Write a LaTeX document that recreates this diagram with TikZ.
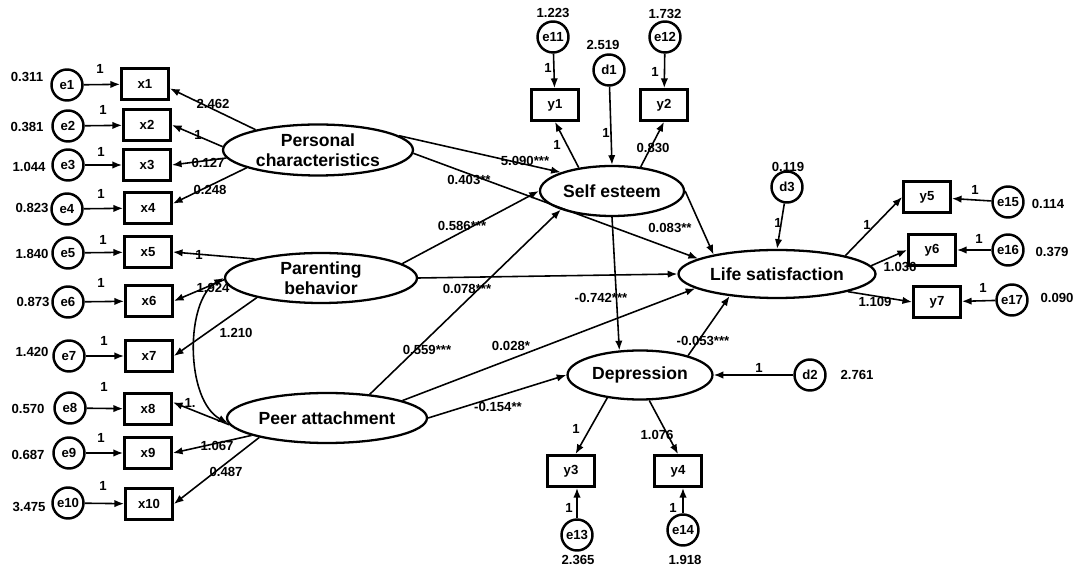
\documentclass[tikz,border=0pt]{standalone}
\usepackage{fontspec}
\setmainfont{Liberation Sans}
\usetikzlibrary{shapes.geometric, arrows.meta, positioning}

\begin{document}
\begin{tikzpicture}[
x=0.02cm, y=-0.02cm,
latent/.style   ={ellipse, draw, line width=1.3pt, inner sep=0pt, minimum height=1cm},
lattext/.style  ={font=\fontsize{10}{11.5}\selectfont\bfseries, align=center, inner sep=0pt},
observed/.style ={rectangle, draw, line width=1.6pt, minimum width=0.94cm, minimum height=0.62cm, inner sep=0pt, font=\fontsize{7.5}{9}\selectfont\bfseries},
error/.style    ={circle, draw, line width=1.4pt, minimum size=0.62cm, inner sep=0pt, font=\fontsize{7.5}{9}\selectfont\bfseries},
num/.style      ={font=\fontsize{7.5}{9}\selectfont\bfseries, inner sep=0pt},
line/.style     ={draw, line width=0.9pt, -{Latex[length=5.5pt,width=4.2pt]}},
cov/.style      ={draw, line width=0.9pt, {Latex[length=5.5pt,width=4.2pt]}-{Latex[length=5.5pt,width=4.2pt]}},
]
\useasboundingbox (0,0) rectangle (1075,570);

% Latent variables
\node[latent, minimum width=3.8cm,  minimum height=1.02cm, label={[lattext]center:Personal\\characteristics}] (pc)  at (318,150) {};
\node[latent, minimum width=3.84cm, label={[lattext]center:Parenting\\behavior}]                            (pb)  at (321,278) {};
\node[latent, minimum width=4cm,    label={[lattext]center:Peer attachment}]                                (pa)  at (327,418) {};
\node[latent, minimum width=2.88cm, label={[lattext]center:Self esteem}]                                    (se)  at (612,191) {};
\node[latent, minimum width=3.94cm, minimum height=0.96cm, label={[lattext]center:Life satisfaction}]       (ls)  at (777,274) {};
\node[latent, minimum width=2.9cm,  minimum height=0.98cm, label={[lattext]center:Depression}]             (dep) at (640,375) {};

% Indicators, left
\node[observed] (x1)  at (145,84)  {x1};
\node[observed] (x2)  at (147,125) {x2};
\node[observed] (x3)  at (147,165) {x3};
\node[observed] (x4)  at (148,208) {x4};
\node[observed] (x5)  at (148,252) {x5};
\node[observed] (x6)  at (149,301) {x6};
\node[observed] (x7)  at (149,356) {x7};
\node[observed] (x8)  at (148,409) {x8};
\node[observed] (x9)  at (148,453) {x9};
\node[observed] (x10) at (149,504) {x10};

\node[error] (e1)  at (67,85)  {e1};
\node[error] (e2)  at (68,126) {e2};
\node[error] (e3)  at (68,165) {e3};
\node[error] (e4)  at (67,209) {e4};
\node[error] (e5)  at (68,253) {e5};
\node[error] (e6)  at (68,302) {e6};
\node[error] (e7)  at (69,356) {e7};
\node[error] (e8)  at (70,408) {e8};
\node[error] (e9)  at (69,453) {e9};
\node[error] (e10) at (68,503) {e10};

% Indicators, right
\node[observed] (y1) at (555,105) {y1};
\node[observed] (y2) at (664,105) {y2};
\node[observed] (y3) at (571,471) {y3};
\node[observed] (y4) at (678,471) {y4};
\node[observed] (y5) at (927,197) {y5};
\node[observed] (y6) at (932,250) {y6};
\node[observed] (y7) at (937,302) {y7};

\node[error] (e11) at (553,37)   {e11};
\node[error] (e12) at (665,37)   {e12};
\node[error] (d1)  at (609,70)   {d1};
\node[error] (d3)  at (787,187)  {d3};
\node[error] (d2)  at (810,375)  {d2};
\node[error] (e13) at (577,535)  {e13};
\node[error] (e14) at (683,530)  {e14};
\node[error] (e15) at (1008,202) {e15};
\node[error] (e16) at (1008,250) {e16};
\node[error] (e17) at (1012,300) {e17};

% Variances
\node[num] (v1)  at (27,77)   {0.311};
\node[num] (v2)  at (27,127)  {0.381};
\node[num] (v3)  at (29,167)  {1.044};
\node[num] (v4)  at (32,208)  {0.823};
\node[num] (v5)  at (32,254)  {1.840};
\node[num] (v6)  at (33,302)  {0.873};
\node[num] (v7)  at (32,352)  {1.420};
\node[num] (v8)  at (28,409)  {0.570};
\node[num] (v9)  at (28,455)  {0.687};
\node[num] (v10) at (29,507)  {3.475};
\node[num] (v11) at (553,13)  {1.223};
\node[num] (v12) at (665,14)  {1.732};
\node[num] (vd1) at (603,45)  {2.519};
\node[num] (vd3) at (788,167) {0.119};
\node[num] (vd2) at (857,375) {2.761};
\node[num] (v13) at (578,560) {2.365};
\node[num] (v14) at (685,560) {1.918};
\node[num] (v15) at (1048,204) {0.114};
\node[num] (v16) at (1052,252) {0.379};
\node[num] (v17) at (1057,298) {0.090};

% Fixed paths
\node[num] (f1)  at (100,69)  {1};
\node[num] (f2)  at (103,110) {1};
\node[num] (f3)  at (101,152) {1};
\node[num] (f4)  at (101,194) {1};
\node[num] (f5)  at (103,240) {1};
\node[num] (f6)  at (101,283) {1};
\node[num] (f7)  at (104,341) {1};
\node[num] (f8)  at (104,387) {1};
\node[num] (f9)  at (101,438) {1};
\node[num] (f10) at (103,486) {1};
\node[num] (f11) at (548,68)  {1};
\node[num] (f12) at (655,72)  {1};
\node[num] (fd1) at (606,133) {1};
\node[num] (fy1) at (557,145) {1};
\node[num] (fd3) at (778,223) {1};
\node[num] (fy5) at (867,225) {1};
\node[num] (f15) at (975,190) {1};
\node[num] (f16) at (979,239) {1};
\node[num] (f17) at (983,288) {1};
\node[num] (fd2) at (759,368) {1};
\node[num] (fy3) at (576,429) {1};
\node[num] (f13) at (569,508) {1};
\node[num] (f14) at (673,508) {1};

% Estimates
\node[num] (l1)  at (213,104) {2.462};
\node[num] (l2)  at (198,135) {1};
\node[num] (l3)  at (208,163) {0.127};
\node[num] (l4)  at (210,190) {0.248};
\node[num] (l5)  at (199,255) {1};
\node[num] (l6)  at (213,288) {1.924};
\node[num] (l7)  at (236,333) {1.210};
\node[num] (l8)  at (190,403) {1.};
\node[num] (l9)  at (217,446) {1.067};
\node[num] (l10) at (226,472) {0.487};
\node[num] (ly2) at (653,148) {0.830};
\node[num] (ly4) at (657,435) {1.076};
\node[num] (ly6) at (900,267) {1.036};
\node[num] (ly7) at (875,302) {1.109};
\node[num] (b1)  at (525,161) {5.090***};
\node[num] (b2)  at (469,180) {0.403**};
\node[num] (b3)  at (462,226) {0.586***};
\node[num] (b4)  at (467,289) {0.078***};
\node[num] (b5)  at (427,350) {0.559***};
\node[num] (b6)  at (511,346) {0.028*};
\node[num] (b7)  at (498,407) {-0.154**};
\node[num] (b8)  at (601,298) {-0.742***};
\node[num] (b9)  at (670,228) {0.083**};
\node[num] (b10) at (703,341) {-0.053***};

% Measurement paths
\path[line] (e1) -- (x1);
\path[line] (e2) -- (x2);
\path[line] (e3) -- (x3);
\path[line] (e4) -- (x4);
\path[line] (e5) -- (x5);
\path[line] (e6) -- (x6);
\path[line] (e7) -- (x7);
\path[line] (e8) -- (x8);
\path[line] (e9) -- (x9);
\path[line] (e10) -- (x10);
\path[line] (pc.162) -- (x1.-10);
\path[line] (pc.178) -- (x2.east);
\path[line] (pc.185) -- (x3.east);
\path[line] (pc.194) -- (x4.10);
\path[line] (pb.164) -- (x5.east);
\path[line] (pb.181) -- (x6.east);
\path[line] (pb.197) -- (x7.east);
\path[line] (pa.184) -- (x8.15);
\path[line] (pa.193) -- (x9.east);
\path[line] (pa.196) -- (x10.east);
\path[cov] (pb.180) .. controls (185,300) and (185,400) .. (pa.183);

\path[line] (e11) -- (y1);
\path[line] (e12) -- (y2);
\path[line] (se.145) -- (y1.south);
\path[line] (se.40) -- (y2.south);
\path[line] (d1) -- (se.north);
\path[line] (dep.215) -- (y3.75);
\path[line] (dep.290) -- (y4.north);
\path[line] (e13.north) -- (e13.north |- y3.south);
\path[line] (e14.north) -- (e14.north |- y4.south);
\path[line] (d2) -- (dep.east);
\path[line] (d3) -- (ls.north);
\path[line] (ls.15) -- (y5.west);
\path[line] (ls.5) -- (y6.west);
\path[line] (ls.346) -- (y7.west);
\path[line] (e15) -- (y5);
\path[line] (e16) -- (y6);
\path[line] (e17) -- (y7);

% Structural paths
\path[line] (pc.10) -- (se.160);
\path[line] (pc.358) -- (ls.169);
\path[line] (pb.10) -- (se.180);
\path[line] (pb.0) -- (ls.180);
\path[line] (pa.29) -- (se.200);
\path[line] (pa.13) -- (ls.190);
\path[line] (pa.east) -- (dep.west);
\path[line] (se.270) -- (dep.130);
\path[line] (se.0) -- (ls.163);
\path[line] (dep.22) -- (ls.205);

\end{tikzpicture}
\end{document}
